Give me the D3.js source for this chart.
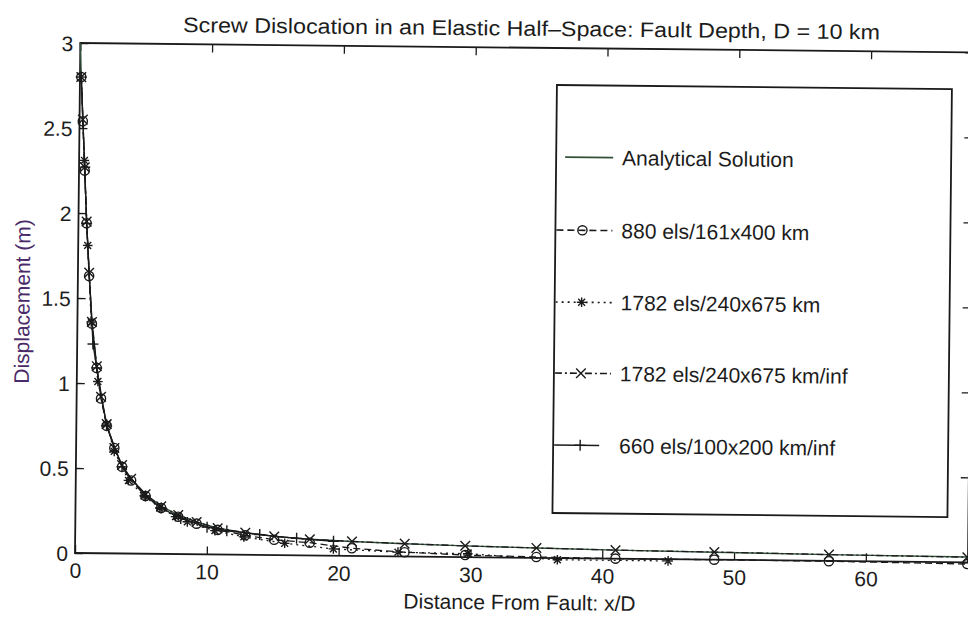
<!DOCTYPE html>
<html>
<head>
<meta charset="utf-8">
<script src="https://cdn.jsdelivr.net/npm/d3@7"></script>
<style>
body { margin: 0; background: #ffffff; }
text { font-family: "Liberation Sans", Arial, Helvetica, sans-serif; fill: #1c1c1c; }
</style>
</head>
<body>
<svg id="chart" width="968" height="621"></svg>
<script>
var titleText = "Screw Dislocation in an Elastic Half\u2013Space: Fault Depth, D = 10 km";
var xLabelText = "Distance From Fault: x/D";
var yLabelText = "Displacement (m)";

var xTicks = [0, 10, 20, 30, 40, 50, 60];
var yTicks = [0, 0.5, 1, 1.5, 2, 2.5, 3];
var yTickLabels = ["0", "0.5", "1", "1.5", "2", "2.5", "3"];

var seriesNames = ["Analytical Solution", "880 els/161x400 km", "1782 els/240x675 km",
	"1782 els/240x675 km/inf", "660 els/100x200 km/inf"];

// analytical solution
var analyticX = [0, 0.1, 0.25, 0.43, 0.62, 0.85, 1.1, 1.5, 1.85, 2.3, 2.9, 3.5, 4.2, 5.3, 6.5, 7.8, 9.2,
	10.8, 12.9, 15.1, 17.8, 21, 25, 29.6, 35, 41, 48.5, 57.2, 67.7];
var analyticY = [3.0, 2.8, 2.55, 2.26, 1.95, 1.64, 1.37, 1.1, 0.92, 0.76, 0.62, 0.52, 0.44, 0.35, 0.28, 0.23, 0.19,
	0.155, 0.13, 0.11, 0.095, 0.085, 0.075, 0.066, 0.058, 0.05, 0.044, 0.037, 0.031];

// 880 els (o, dashed)
var circX = [0.1, 0.25, 0.43, 0.62, 0.85, 1.1, 1.5, 1.85, 2.3, 2.9, 3.5, 4.2, 5.3, 6.5, 7.8, 9.2,
	10.8, 12.9, 15.1, 17.8, 21, 25, 29.6, 35, 41, 48.5, 57.2, 67.7];
var circY = [2.8, 2.54, 2.25, 1.94, 1.63, 1.35, 1.09, 0.91, 0.75, 0.62, 0.51, 0.43, 0.34, 0.27, 0.22, 0.18,
	0.145, 0.115, 0.09, 0.075, 0.045, 0.025, 0.012, 0.005, 0.0, 0.0, -0.002, -0.01];

// 1782 els (*, dotted)
var starX = [0.4, 0.72, 1.05, 1.6, 2.3, 2.9, 4.0, 5.2, 6.4, 7.6, 8.5, 10.6, 12.8, 15.9, 19.6, 24.5, 29.8, 36.6, 45.0];
var starY = [2.31, 1.81, 1.36, 1.01, 0.76, 0.6, 0.43, 0.34, 0.27, 0.22, 0.19, 0.14, 0.105, 0.07, 0.04, 0.025, 0.02, -0.01, -0.01];

// 1782 els inf (x, dash-dot)
var crossX = [0.1, 0.25, 0.43, 0.62, 0.85, 1.1, 1.5, 1.85, 2.3, 2.9, 3.5, 4.2, 5.3, 6.5, 7.8, 9.2,
	10.8, 12.9, 15.1, 17.8, 21, 25, 29.6, 35, 41, 48.5, 57.2, 67.7];
var crossY = [2.8, 2.55, 2.27, 1.95, 1.65, 1.36, 1.1, 0.92, 0.76, 0.62, 0.52, 0.44, 0.35, 0.28, 0.23, 0.19,
	0.155, 0.13, 0.11, 0.095, 0.085, 0.075, 0.066, 0.058, 0.05, 0.045, 0.037, 0.03];

// 660 els inf (+, solid)
var plusX = [0.1, 0.43, 0.62, 1.2, 1.5, 2.3, 3.5, 5.3, 6.5, 8.0, 10.0, 11.5, 14.0, 16.8, 19.6];
var plusY = [2.8, 2.27, 1.94, 1.23, 1.09, 0.75, 0.51, 0.34, 0.27, 0.21, 0.16, 0.14, 0.12, 0.1, 0.085];

(function() {
	var m = {left: 75, right: 968, top: 43, bottom: 553};
	var ink = "#1a1a1a";

	var svg = d3.select("#chart");
	// the scan is tilted a little clockwise
	var g = svg.append("g").attr("transform", "rotate(0.6," + m.left + "," + m.bottom + ")");

	var x = d3.scaleLinear().domain([0, 67.75]).range([m.left, m.right]);
	var y = d3.scaleLinear().domain([0, 3]).range([m.bottom, m.top]);

	function zip(xs, ys) {
		return xs.map(function(v, i) { return [v, ys[i]]; });
	}

	// axes, ticks pointing inward
	var axBottom = g.append("g").attr("transform", "translate(0," + m.bottom + ")")
		.call(d3.axisBottom(x).tickValues(xTicks).tickSize(-8).tickSizeOuter(0).tickPadding(10));
	var axTop = g.append("g").attr("transform", "translate(0," + m.top + ")")
		.call(d3.axisTop(x).tickValues(xTicks).tickSize(-8).tickSizeOuter(0).tickFormat(""));
	var axLeft = g.append("g").attr("transform", "translate(" + m.left + ",0)")
		.call(d3.axisLeft(y).tickValues(yTicks).tickSize(-8).tickSizeOuter(0).tickPadding(7)
			.tickFormat(function(d, i) { return yTickLabels[i]; }));
	var axRight = g.append("g").attr("transform", "translate(" + m.right + ",0)")
		.call(d3.axisRight(y).tickValues(yTicks).tickSize(-8).tickSizeOuter(0).tickFormat(""));

	[axBottom, axTop, axLeft, axRight].forEach(function(a) {
		a.select(".domain").remove();
		a.selectAll("line").attr("stroke", ink).attr("stroke-width", 1.3);
		a.selectAll("text").attr("font-size", 21).attr("fill", "#1c1c1c")
			.style("font-family", "'Liberation Sans', Arial, sans-serif");
	});
	axLeft.selectAll("text").attr("dy", "0.36em");

	g.append("rect")
		.attr("x", m.left).attr("y", m.top)
		.attr("width", m.right - m.left).attr("height", m.bottom - m.top)
		.attr("fill", "none").attr("stroke", ink).attr("stroke-width", 1.8);

	// series
	var line = d3.line().x(function(d) { return x(d[0]); }).y(function(d) { return y(d[1]); });

	var series = [
		{data: zip(analyticX, analyticY), dash: null, marker: null, color: "#33503a", width: 1.4},
		{data: zip(circX, circY), dash: "7,4", marker: "o", color: ink, width: 1.3},
		{data: zip(starX, starY), dash: "2,4", marker: "*", color: ink, width: 1.3},
		{data: zip(crossX, crossY), dash: "7,3,2,3", marker: "x", color: ink, width: 1.3},
		{data: zip(plusX, plusY), dash: null, marker: "+", color: ink, width: 1.3}
	];

	function markerPath(type, s) {
		if (type == "x") return "M" + (-s) + "," + (-s) + "L" + s + "," + s + "M" + (-s) + "," + s + "L" + s + "," + (-s);
		if (type == "+") return "M" + (-s) + ",0L" + s + ",0M0," + (-s) + "L0," + s;
		if (type == "*") {
			var d = s * 0.72;
			return "M" + (-s) + ",0L" + s + ",0M0," + (-s) + "L0," + s +
				"M" + (-d) + "," + (-d) + "L" + d + "," + d + "M" + (-d) + "," + d + "L" + d + "," + (-d);
		}
		return "";
	}

	function drawMarker(sel, type, cx, cy, color) {
		if (type == "o") {
			sel.append("circle").attr("cx", cx).attr("cy", cy).attr("r", 4.6)
				.attr("fill", "none").attr("stroke", color).attr("stroke-width", 1.4);
		} else {
			sel.append("path").attr("transform", "translate(" + cx + "," + cy + ")")
				.attr("d", markerPath(type, type == "+" ? 5.5 : 4.8))
				.attr("fill", "none").attr("stroke", color).attr("stroke-width", 1.4);
		}
	}

	var plot = g.append("g");
	series.forEach(function(s) {
		plot.append("path")
			.datum(s.data)
			.attr("d", line)
			.attr("fill", "none")
			.attr("stroke", s.color)
			.attr("stroke-width", s.width)
			.attr("stroke-dasharray", s.dash);
	});
	series.forEach(function(s) {
		if (!s.marker) return;
		var mg = plot.append("g");
		s.data.forEach(function(d) {
			drawMarker(mg, s.marker, x(d[0]), y(d[1]), s.color);
		});
	});

	// legend
	var lg = g.append("g");
	lg.append("rect")
		.attr("x", 552).attr("y", 80).attr("width", 395).attr("height", 428)
		.attr("fill", "#ffffff").attr("stroke", ink).attr("stroke-width", 1.8);
	var rowY = [152, 225, 297, 368, 440];
	series.forEach(function(s, i) {
		var x1 = i == 0 ? 561 : 553, x2 = i == 4 ? 598 : 609;
		lg.append("line")
			.attr("x1", x1).attr("x2", x2).attr("y1", rowY[i]).attr("y2", rowY[i])
			.attr("stroke", s.color).attr("stroke-width", s.width + 0.3)
			.attr("stroke-dasharray", s.dash);
		if (s.marker) drawMarker(lg, s.marker, 579, rowY[i], s.color);
		lg.append("text")
			.attr("x", 618).attr("y", rowY[i]).attr("dy", "0.36em")
			.attr("font-size", 21)
			.text(seriesNames[i]);
	});

	// title and labels
	g.append("text")
		.attr("x", 526).attr("y", 31)
		.attr("text-anchor", "middle")
		.attr("font-size", 21)
		.attr("textLength", 697).attr("lengthAdjust", "spacingAndGlyphs")
		.text(titleText);

	g.append("text")
		.attr("x", 520).attr("y", 605)
		.attr("text-anchor", "middle")
		.attr("font-size", 21)
		.text(xLabelText);

	g.append("text")
		.attr("transform", "translate(27,302) rotate(-90)")
		.attr("text-anchor", "middle")
		.attr("font-size", 21)
		.style("fill", "#4a2a68")
		.text(yLabelText);
})();
</script>
</body>
</html>
